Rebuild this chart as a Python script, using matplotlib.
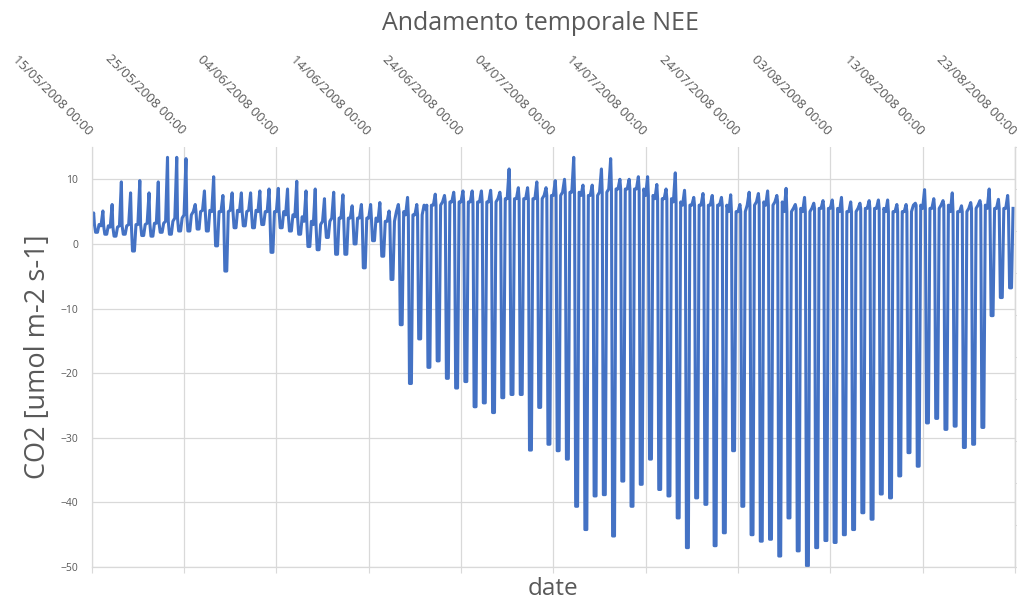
import numpy as np
import matplotlib
matplotlib.use("Agg")
import matplotlib.pyplot as plt
import matplotlib.dates as mdates

plt.rcParams['font.family'] = ['Open Sans', 'DejaVu Sans']

# Half-hourly NEE summarised per day (15/05/2008 onwards):
# night-time level, early-morning peak and midday minimum [umol m-2 s-1]
start_date = np.datetime64('2008-05-15T00:00')

night_level = [
    3.0, 2.8, 2.6, 2.8, 3.0, 3.0, 3.2, 3.2, 3.5, 4.0,
    4.5, 5.0, 5.2, 5.0, 5.0, 5.2, 5.0, 5.2, 5.0, 5.0,
    5.0, 4.5, 4.2, 3.5, 3.0, 3.5, 4.0, 4.0, 4.0, 4.0,
    4.0, 3.5, 3.5, 5.0, 4.5, 4.5, 6.0, 6.0, 6.5, 6.5,
    6.5, 6.5, 6.5, 6.5, 7.0, 7.0, 7.0, 7.0, 7.0, 7.5,
    7.5, 8.0, 8.0, 7.5, 7.5, 8.0, 8.5, 8.5, 8.5, 8.5,
    7.5, 7.0, 7.0, 6.5, 6.0, 6.0, 6.0, 6.0, 6.0, 5.0,
    5.0, 6.0, 6.5, 6.0, 6.5, 5.0, 5.5, 5.0, 5.5, 5.5,
    5.5, 5.0, 5.0, 5.5, 5.5, 5.5, 5.0, 5.0, 5.0, 6.0,
    5.5, 5.5, 6.0, 5.0, 5.0, 5.5, 6.0, 5.5, 5.5, 5.5,
]

night_peak = [
    4.8, 5.1, 6.1, 9.6, 7.9, 9.8, 7.9, 9.6, 13.4, 13.4,
    13.2, 6.1, 8.2, 10.4, 7.5, 7.9, 7.9, 7.9, 8.2, 8.5,
    8.6, 8.5, 9.7, 8.2, 8.5, 7.0, 8.0, 7.6, 5.9, 6.1,
    6.1, 6.4, 5.1, 6.1, 7.2, 6.1, 5.3, 7.7, 7.5, 8.0,
    8.2, 8.2, 8.2, 8.3, 8.0, 11.6, 8.7, 8.7, 9.6, 8.7,
    9.8, 10.0, 13.4, 9.1, 9.1, 11.6, 13.2, 10.0, 10.0, 10.4,
    10.4, 9.2, 8.5, 11.0, 8.3, 7.2, 7.8, 7.5, 7.2, 7.6,
    6.1, 8.0, 7.8, 8.2, 7.5, 8.6, 6.1, 7.2, 6.3, 6.7,
    6.8, 7.2, 6.5, 6.3, 6.7, 6.8, 6.8, 6.1, 6.1, 6.3,
    8.4, 7.0, 6.7, 7.9, 5.9, 6.4, 6.7, 8.5, 6.9, 7.5,
]

midday_low = [
    1.8, 1.5, 1.2, 1.5, -1.1, 1.3, 1.2, 1.8, 1.5, 2.0,
    2.0, 2.3, 2.0, -0.3, -4.2, 2.5, 2.8, 2.5, 3.0, -1.3,
    2.5, 2.0, 1.5, -0.4, -0.9, 1.0, -1.6, -1.6, 0.0, -3.7,
    0.5, -1.9, -5.5, -12.5, -21.6, -14.7, -19.1, -18.1, -20.8, -22.3,
    -21.3, -25.2, -24.6, -26.1, -23.8, -23.3, -23.3, -31.9, -25.3, -31.0,
    -32.0, -33.3, -40.6, -44.2, -39.0, -38.8, -45.2, -36.7, -40.6, -37.2,
    -33.3, -38.0, -39.0, -42.4, -47.0, -39.3, -40.3, -46.7, -44.7, -32.0,
    -40.6, -45.0, -46.0, -45.7, -48.3, -42.4, -47.5, -49.8, -47.0, -45.9,
    -46.2, -45.0, -44.2, -41.6, -42.6, -38.7, -39.3, -35.9, -32.3, -34.4,
    -27.7, -27.0, -28.7, -28.2, -31.5, -31.0, -28.4, -11.1, -8.3, -6.8,
]

# hour of day for each daily reading:
# midnight, pre-dawn peak, sunrise, midday plateau (start/end), evening
reading_hours = [0.0, 5.0, 7.0, 10.0, 15.0, 19.0]

times = []
values = []
for d in range(len(midday_low)):
    day0 = start_date + np.timedelta64(d, 'D')
    day_vals = (night_level[d], night_peak[d], night_level[d],
                midday_low[d], midday_low[d], night_level[d])
    for h, v in zip(reading_hours, day_vals):
        times.append(day0 + np.timedelta64(int(round(h * 60)), 'm'))
        values.append(v)
times = np.array(times)
values = np.array(values)

grey_text = '#595959'
grid_col = '#D9D9D9'

fig = plt.figure(figsize=(10.17, 5.99), dpi=100)
ax = fig.add_axes([0.0902, 0.0534, 0.9078, 0.7012])

ax.plot(times, values, color='#4472C4', lw=2.2, solid_joinstyle='round')

ax.set_xlim(start_date, start_date + np.timedelta64(100, 'D'))
ax.set_ylim(-50, 15)
ax.set_yticks(range(-50, 11, 10))
ax.set_xticks([start_date + np.timedelta64(10 * k, 'D') for k in range(11)])
ax.xaxis.set_major_formatter(mdates.DateFormatter('%d/%m/%Y %H:%M'))

ax.grid(True, color=grid_col, lw=0.9)
ax.set_axisbelow(True)
ax.spines['top'].set_visible(False)
for side in ('left', 'bottom', 'right'):
    ax.spines[side].set_color(grid_col)
    ax.spines[side].set_linewidth(0.9)

ax.tick_params(axis='y', length=0, pad=9.9, labelsize=7.5, labelcolor=grey_text)
ax.tick_params(axis='x', bottom=True, top=False, labelbottom=False, labeltop=True,
               length=4, color=grid_col, pad=7.0, labelsize=9.5, labelcolor=grey_text)
for lab in ax.get_xticklabels():
    lab.set_rotation(-45)
    lab.set_ha('right')
    lab.set_va('center_baseline')
    lab.set_rotation_mode('anchor')

# secondary scale on the right edge (ticks only)
ax2 = ax.twinx()
ax2.set_ylim(0, 10)
ax2.set_yticks(range(0, 11))
ax2.set_yticklabels([])
ax2.tick_params(axis='y', length=3, color=grid_col)
for side in ('top', 'left', 'bottom'):
    ax2.spines[side].set_visible(False)
ax2.spines['right'].set_color(grid_col)
ax2.spines['right'].set_linewidth(0.9)

fig.text(540 / 1017, 1 - 23 / 599, 'Andamento temporale NEE', ha='center', va='center',
         fontsize=18, color=grey_text)
fig.text(553 / 1017, 1 - 595 / 599, 'date', ha='center', va='baseline',
         fontsize=17.5, color=grey_text)
fig.text(38 / 1017, 1 - 357 / 599, 'CO2 [umol m-2 s-1]', rotation=90, ha='center', va='center',
         fontsize=19.5, color=grey_text)

fig.savefig('out.png', dpi=100)
